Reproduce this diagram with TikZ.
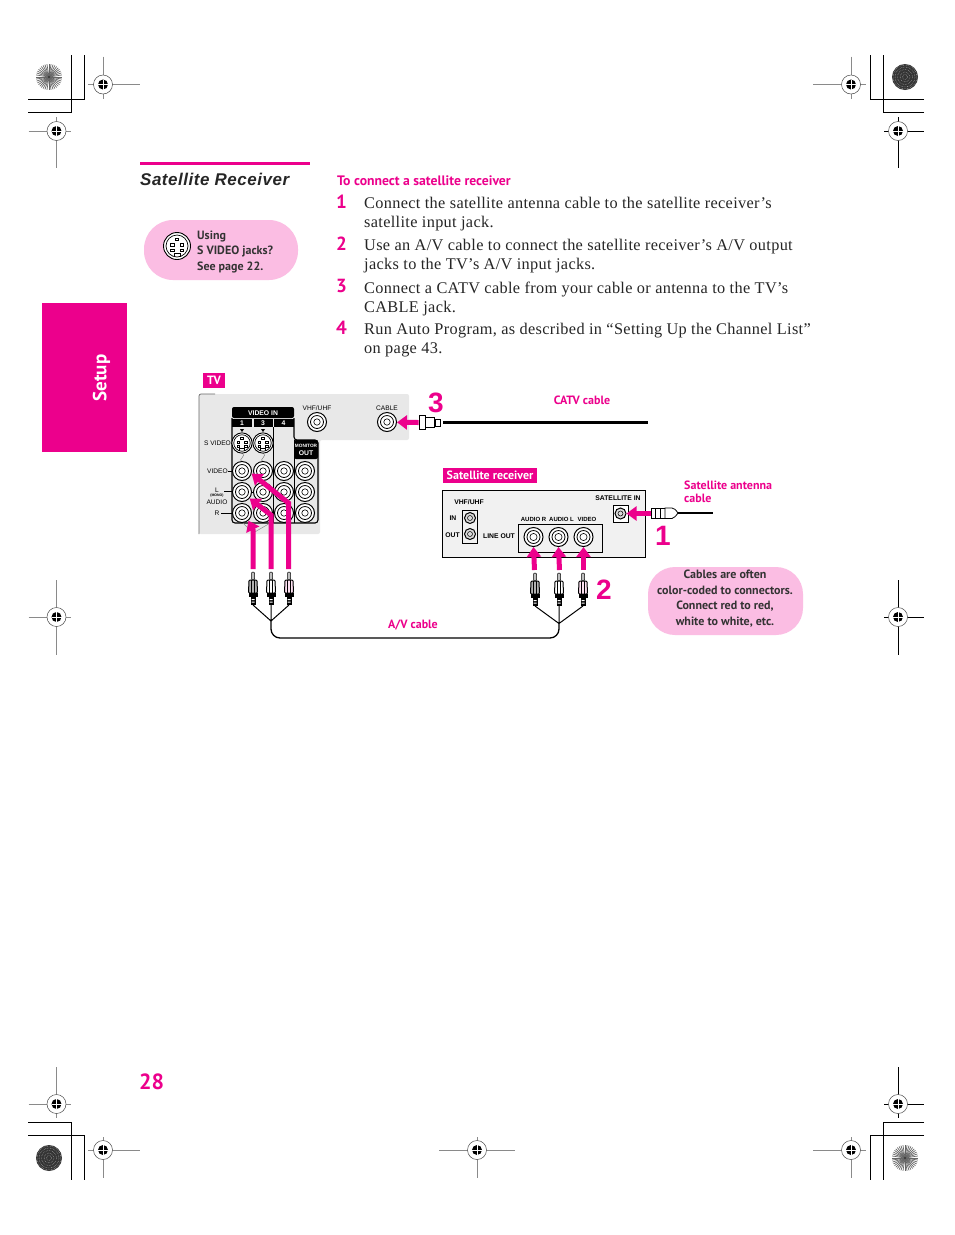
\documentclass[tikz,border=0pt]{standalone}
\usepackage{fontspec}
\setmainfont{Liberation Serif}
\newfontfamily\guidesans{PT Sans}
\newfontfamily\panelsans{Liberation Sans}
\newfontfamily\bodyserif[LetterSpace=2]{Liberation Serif}
\newfontfamily\titlesans[LetterSpace=3]{Liberation Sans}
\usepackage{tikz}
\usetikzlibrary{arrows.meta,positioning,calc}
\definecolor{magenta}{HTML}{EC008C}
\definecolor{bubble}{HTML}{FBBDE3}
\definecolor{panelgray}{HTML}{E8E8E8}
\definecolor{boxgray}{HTML}{F1F1F1}
\definecolor{inkgray}{HTML}{8A8A8A}
\tikzset{
pinkarr/.style={-{Triangle[length=10pt,width=14pt]},draw=magenta,line width=5pt},
crop/.style={draw=black,line width=.8pt},
cue/.style={font=\guidesans\bfseries\fontsize{12}{13}\selectfont,text=magenta,inner sep=0pt},
tag/.style={fill=magenta,text=white,font=\guidesans\bfseries\fontsize{12}{13}\selectfont,inner sep=0pt,minimum height=15pt},
stepnum/.style={font=\guidesans\bfseries\fontsize{19}{20}\selectfont,text=magenta,inner sep=0pt},
bignum/.style={font=\panelsans\bfseries\fontsize{28}{30}\selectfont,text=magenta,inner sep=0pt},
steptext/.style={font=\bodyserif\fontsize{16.3}{19}\selectfont,align=left,anchor=west,inner sep=0pt,text=black!85},
note/.style={font=\guidesans\bfseries\fontsize{12}{15.5}\selectfont,text=black!80,inner sep=0pt},
paneltext/.style={font=\panelsans\fontsize{6.6}{7.5}\selectfont,inner sep=0pt,align=center},
panelbold/.style={font=\panelsans\bfseries\fontsize{6.8}{7.5}\selectfont,inner sep=0pt,align=center},
jacklab/.style={font=\panelsans\bfseries\fontsize{6}{7}\selectfont,inner sep=0pt,align=center},
jack/.style={circle,draw=black,fill=white,line width=1pt,minimum size=19pt,inner sep=0pt},
pics/regmark/.style args={#1/#2/#3/#4/#5}{code={
\draw[draw=#5,line width=.7pt] (-#1,0)--(#2,0) (0,-#3)--(0,#4);
\draw[draw=black!70,line width=.5pt,fill=white] (0,0) circle (9.5);
\fill[black] (0,0) circle (5);
\draw[white,line width=.6pt] (-5,0)--(5,0) (0,-5)--(0,5);}},
pics/svideo/.style={code={
\draw[fill=white,line width=.9pt] (0,0) circle (13.5);
\draw[line width=.7pt] (0,0) circle (11);
\foreach \sx/\sy in {-6.5/-2.5,3/-2.5,-6.5/3,3/3,-2/-8}{\draw[line width=.7pt] (\sx,\sy) rectangle ++(3.6,2.6);}
\draw[line width=.7pt] (-3,7)--(-3,11) (3,7)--(3,11) (-3,7)--(3,7);}},
pics/rca/.style={code={
\coordinate (-head) at (0,-1);\coordinate (-tail) at (0,33);
\draw[fill=black!25,line width=.5pt,rounded corners=1pt] (-1.5,0) rectangle (1.5,8);
\draw[fill=#1,line width=1pt,rounded corners=1pt] (-4,8)--(4,8)--(4.5,21)--(-4.5,21)--cycle;
\draw[line width=.5pt] (-1.5,8)--(-1.5,21) (1.5,8)--(1.5,21);
\fill[black] (-4.5,21) rectangle (4.5,25);
\fill[black] (-2.5,25) rectangle (2.5,33);
\fill[white] (-1.5,27) rectangle (1.5,28) (-1.5,29.5) rectangle (1.5,30.5);}},
}
\begin{document}
\begin{tikzpicture}[x=1pt,y=-1pt]
\useasboundingbox (0,0) rectangle (954,1235);
\fill[white] (0,0) rectangle (954,1235);
\draw[crop] (28,112)-|(71.5,55) (28,99)-|(84.5,55) (924,99)-|(870,55) (924,112)-|(883,55);
\draw[crop] (28,1122)-|(71.5,1180) (28,1135)-|(84.5,1180) (924,1135)-|(870,1180) (924,1122)-|(883,1180);
\foreach \x/\y in {49/77,905/1158}{\fill[white] (\x,\y) circle (13);\foreach \a in {0,9,...,351}{\draw[black!60,line width=.7pt] (\x,\y)--++(\a:13);}\fill[black!80] (\x,\y) circle (1.2);}
\foreach \x/\y in {905/77,49/1158}{\fill[black!80] (\x,\y) circle (13);\foreach \r in {2.5,5,7.5,10,12}{\draw[white!60!black,densely dotted,line width=.6pt] (\x,\y) circle (\r);}}
\foreach \x/\y/\la/\ra/\ua/\da/\ca in {103/84.5/15/37/28/14/inkgray,56.5/131/28/14/14/37/inkgray,851/84.5/38/15/28/14/inkgray,898/131/14/26/14/37/black,56.5/617/28/14/37/38/inkgray,898/617/14/26/37/38/black,56.5/1104/28/14/37/14/inkgray,103/1150/15/37/13/28/inkgray,851/1150/38/15/13/28/inkgray,898/1104/14/26/37/14/black,477/1150/38/38/13/28/inkgray}{\pic at (\x,\y) {regmark={\la/\ra/\ua/\da/\ca}};}
\node[fill=magenta,minimum width=85pt,minimum height=149pt,inner sep=0pt] (sidebar) at (84.5,377.5) {};
\node[rotate=90,font=\guidesans\bfseries\fontsize{19}{20}\selectfont,text=white,inner sep=0pt] (setup) at (101.5,378) {Setup};
\fill[magenta] (140,161.5) rectangle (310,164.5);
\node[font=\titlesans\bfseries\itshape\fontsize{17}{19}\selectfont,text=black!85,anchor=west,inner sep=0pt] (title) at (140,179) {Satellite Receiver};
\node[fill=bubble,rounded corners=29pt,minimum width=154pt,minimum height=60pt] (svbubble) at (221,250) {};
\pic at (177,246) {svideo};
\node[note,anchor=west,align=left] (svnote) at (197,251.5) {Using\\S VIDEO jacks?\\See page 22.};
\node[cue,anchor=west,font=\guidesans\bfseries\fontsize{13.7}{14}\selectfont] (howto) at (337,181) {To connect a satellite receiver};
\foreach \n/\y in {1/202,2/244,3/286,4/328}{\node[stepnum] (num\n) at (341.5,\y) {\n};}
\node[steptext] (step1) at (364,214.5) {Connect the satellite antenna cable to the satellite receiver’s\\satellite input jack.};
\node[steptext] (step2) at (364,256.5) {Use an A/V cable to connect the satellite receiver’s A/V output\\jacks to the TV’s A/V input jacks.};
\node[steptext] (step3) at (364,298.5) {Connect a CATV cable from your cable or antenna to the TV’s\\CABLE jack.};
\node[steptext] (step4) at (364,340.5) {Run Auto Program, as described in “Setting Up the Channel List”\\on page 43.};
\node[tag,minimum width=22pt] (tvtag) at (214,380) {TV};
\fill[panelgray,rounded corners=2pt] (199,534)--(199,394)--(409,394)--(409,440)--(320,440)--(320,534)--cycle;
\draw[black!60,line width=.7pt,rounded corners=2pt] (199,534)--(199,394)--(215,394);
\fill[black,rounded corners=2pt] (232,418)--(232,407)--(294,407)--(294,418)--cycle;
\foreach \x/\w in {232/20,253.5/19,274/20}{\fill[black] (\x,419) rectangle ++(\w,8);}
\draw[line width=1.1pt,rounded corners=3pt] (232,418)--(232,523)--(318,523)--(318,440)--(294,440)--(294,418);
\draw[line width=.8pt] (273.5,427)--(273.5,523) (294,440)--(294,523);
\fill[black,rounded corners=2pt] (294,459)--(294,440)--(318,440)--(318,459)--cycle;
\node[panelbold,text=white] (videoin) at (263,413) {VIDEO IN};
\node[panelbold,text=white] (monitor) at (306,450) {\fontsize{4.7}{6}\selectfont MONITOR\\OUT};
\foreach \n/\x in {1/242,3/263,4/283.5}{\node[panelbold,text=white] (col\n) at (\x,423) {\n};}
\foreach \x in {242,263}{\fill (\x-2,429)--(\x+2,429)--(\x,432)--cycle;\draw[black!60,line width=.4pt] (\x,453) .. controls (\x+5,457) and (\x-5,459) .. (\x,462);}
\foreach \n/\t/\x/\y in {svlab/S VIDEO/217.5/443,vidlab/VIDEO/217.5/471,llab/L/217/490.5,audlab/AUDIO/217/502.5,rlab/R/217/513}{\node[paneltext] (\n) at (\x,\y) {\t};}
\node[paneltext,font=\panelsans\bfseries\fontsize{3.5}{4}\selectfont] (monolab) at (217,495.5) {(MONO)};
\draw[line width=.7pt] (svlab.east)--(232,443) (vidlab.east)--(232,471) (224,491)--(232,491) (221,513)--(232,513);
\draw[inkgray,line width=.5pt] (233,513)--(253,533)--(272,522);
\node[paneltext] (vhflab) at (317,408) {VHF/UHF};
\node[paneltext] (cablelab) at (387,408) {CABLE};
\foreach \a/\b/\y in {284/305/471,284/305/492,284/305/513,263/284/471,242/263/492}{\draw[line width=.8pt] (\a,\y)--(\b,\y);}
\foreach \n/\x/\y in {vidA/242/471,vidB/263/471,vidC/284/471,vidD/305/471,lftA/242/492,lftB/263/492,lftC/284/492,lftD/305/492,rgtA/242/513,rgtB/263/513,rgtC/284/513,rgtD/305/513,vhf/317/422,cable/387/422}{\node[jack] (\n) at (\x,\y) {};\draw[line width=.8pt] (\n) circle (6.5);\draw[line width=.6pt] (\n) circle (3.2);}
\foreach \n/\x in {svA/242,svB/263}{\pic[scale=.75] at (\x,443) {svideo};\coordinate (\n) at (\x,443);}
\pic (tvplugA) at (253,572) {rca=black!30};
\pic (tvplugB) at (271,572) {rca=white};
\pic (tvplugC) at (289,572) {rca=magenta!12};
\coordinate (bendA) at (253,530);\coordinate (bendB) at (271,515);\coordinate (bendC) at (288.5,503);
\draw[pinkarr] (253,569)--(bendA)--(rgtA.-50);
\draw[pinkarr] (271,569)--(bendB)--(lftA.-40);
\draw[pinkarr] (288.5,569)--(bendC)--(vidA.-15);
\node[bignum] (three) at (436,403) {3};
\node[cue] (catv) at (582,400) {CATV cable};
\draw[black,line width=3.6pt] (443,422.5)--(648,422.5);
\node[draw=black,fill=white,minimum width=6pt,minimum height=14pt,inner sep=0pt,line width=.7pt] (fnutA) at (422,422.5) {};
\node[draw=black,fill=white,minimum width=9pt,minimum height=10pt,inner sep=0pt,line width=.7pt,right=0pt of fnutA] (fnutB) {};
\node[draw=black,fill=white,minimum width=5pt,minimum height=7pt,inner sep=0pt,line width=.7pt,right=0pt of fnutB] (fnutC) {};
\draw[pinkarr] (fnutA.west)--(cable.-2);
\node[tag,minimum width=94pt] (rectag) at (490,475.5) {Satellite receiver};
\draw[fill=boxgray,line width=1pt] (442,490.5) rectangle (645,557);
\draw[line width=1pt] (518,524) rectangle (602,552);
\draw[line width=1pt] (462.5,510) rectangle (477,543);
\draw[line width=1pt,fill=white] (613,505) rectangle (628,522);
\foreach \n/\x/\y in {rcvIn/470/518,rcvOut/470/534,satin/620.5/513.5}{\node[jack,minimum size=11pt,fill=white!70!gray] (\n) at (\x,\y) {};\draw[line width=.5pt] (\n) circle (2.5);}
\foreach \n/\x in {rcvR/533.5,rcvL/558.5,rcvV/583.5}{\node[jack,minimum size=19pt] (\n) at (\x,537) {};\draw[line width=.8pt] (\n) circle (6.5);\draw[line width=.6pt] (\n) circle (3.6);}
\node[panelbold] (rvhf) at (469,502) {VHF/UHF};
\node[panelbold] (rin) at (453,518) {IN};
\node[panelbold] (rout) at (452.5,535) {OUT};
\node[panelbold] (rline) at (499,536) {LINE OUT};
\node[panelbold] (rsat) at (618,498) {SATELLITE IN};
\node[jacklab] (raudr) at (533.5,519) {AUDIO R};
\node[jacklab] (raudl) at (561.5,519) {AUDIO L};
\node[jacklab] (rvideo) at (587,519) {VIDEO};
\pic (rcplugA) at (535,573) {rca=black!30};
\pic (rcplugB) at (559,573) {rca=white};
\pic (rcplugC) at (583,573) {rca=magenta!12};
\draw[pinkarr] (534.5,570)--(rcvR.south);
\draw[pinkarr] (559.5,570)--(rcvL.south);
\draw[pinkarr] (583.5,570)--(rcvV.south);
\node[bignum] (two) at (604,590) {2};
\draw[black,line width=2.4pt] (677,513)--(713,513);
\draw[fill=white,line width=.8pt] (651,508) rectangle (665,518.5) (655,508)--(655,518.5) (660,508)--(660,518.5);
\draw[fill=white,line width=.8pt] (665,508)--(672,508) .. controls (675,509) .. (678,513) .. controls (675,517) .. (672,518.5)--(665,518.5)--cycle;
\coordinate (satplug) at (651,513.5);
\draw[pinkarr] (satplug)--(satin.east);
\node[bignum] (one) at (663,536) {1};
\node[cue,anchor=west,align=left] (satcable) at (684,491.5) {Satellite antenna\\cable};
\node[fill=bubble,rounded corners=27pt,minimum width=155pt,minimum height=68pt] (tipbubble) at (725.5,601) {};
\node[note,align=center] (tipnote) at (725,598.5) {Cables are often\\color-coded to connectors.\\Connect red to red,\\white to white, etc.};
\coordinate (tvjoin) at (271,621);\coordinate (rcjoin) at (559,623.5);
\draw[line width=1pt] (tvplugA-tail)--(tvjoin) (tvplugB-tail)--(tvjoin) (tvplugC-tail)--(tvjoin);
\draw[line width=1pt] (rcplugA-tail)--(rcjoin) (rcplugB-tail)--(rcjoin) (rcplugC-tail)--(rcjoin);
\draw[line width=1.3pt,rounded corners=9pt] (tvjoin)--(271,638)--(559,638)--(rcjoin);
\node[cue] (avcable) at (413,625.5) {A/V cable};
\node[font=\guidesans\bfseries\fontsize{22}{24}\selectfont,text=magenta,inner sep=0pt] (pagenum) at (151.5,1082) {28};
\end{tikzpicture}
\end{document}
